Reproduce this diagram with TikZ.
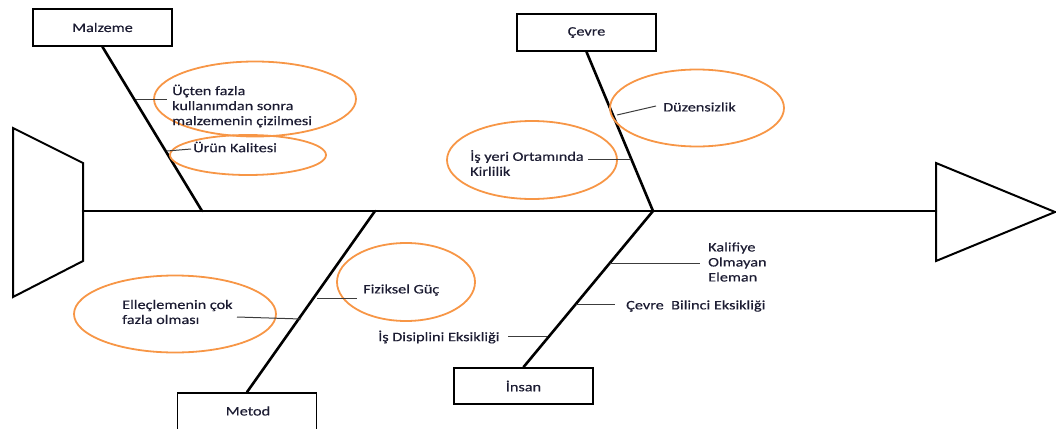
\documentclass[tikz,border=0pt]{standalone}
\usepackage{fontspec}
\setmainfont{Carlito}[FakeStretch=1.25,FakeBold=0.4]
\usetikzlibrary{shapes.geometric}
\definecolor{fborange}{RGB}{247,150,70}
\definecolor{txt}{RGB}{28,28,50}
\definecolor{tick}{RGB}{60,60,60}
\tikzset{
  bone/.style={line width=2.6pt, line cap=round},
  catbox/.style={draw, line width=1.8pt, rectangle, minimum width=139pt, minimum height=37pt, inner sep=0pt, text=txt},
  oval/.style={draw=fborange, line width=1.8pt, ellipse, inner sep=0pt},
  lbl/.style={anchor=west, inner sep=0pt, align=left, text=txt, font=\fontsize{13}{15}\selectfont},
  tickline/.style={draw=tick, line width=1pt},
  outline/.style={line width=2pt, line join=miter}
}
\begin{document}
\begin{tikzpicture}[x=1pt,y=-1pt, every node/.append style={font=\fontsize{13}{15}\selectfont}]
\clip (0,0) rectangle (1056,428);
% tail and head
\draw[outline] (13,128) -- (83,163) -- (83,261) -- (13,297) -- cycle;
\draw[outline] (936,163) -- (1055,212) -- (936,261) -- cycle;
\coordinate (tail) at (83,211);
\coordinate (head) at (936,211);
\draw[bone] (tail) -- (head);
% category boxes
\node[catbox] (malzeme) at (102.5,27.5) {Malzeme};
\node[catbox] (cevre) at (586.5,32.5) {Çevre};
\node[catbox, minimum height=40pt] (metod) at (247,413) {};
\node[text=txt] (metodtxt) at (248,411) {Metod};
\node[catbox, minimum height=36pt] (insan) at (523.5,386) {İnsan};
% junctions on spine
\coordinate (jM) at (202,211);
\coordinate (jC) at (653,211);
\coordinate (jMe) at (375,211);
\coordinate (jI) at (653,211);
\draw[bone] (malzeme.south) -- (jM);
\draw[bone] (cevre.south) -- (jC);
\draw[bone] (metod.north) -- (jMe);
\draw[bone] (insan.north) -- (jI);
% ellipses
\node[oval, minimum width=202pt, minimum height=75pt] (e1) at (255,99) {};
\node[oval, minimum width=156pt, minimum height=40pt] (e2) at (248,155) {};
\node[oval, minimum width=174pt, minimum height=77pt] (e3) at (697,108) {};
\node[oval, minimum width=170pt, minimum height=78pt] (e4) at (532,160) {};
\node[oval, minimum width=202pt, minimum height=77pt] (e5) at (175,314) {};
\node[oval, minimum width=138pt, minimum height=78pt] (e6) at (406,282) {};
% labels
\node[lbl] (t1) at (172,106) {Üçten fazla\\kullanımdan sonra\\malzemenin çizilmesi};
\node[lbl] (t2) at (193,147) {Ürün Kalitesi};
\node[lbl] (t3) at (663,107) {Düzensizlik};
\node[lbl] (t4) at (470,163) {İş yeri Ortamında\\Kirlilik};
\node[lbl] (t5) at (122,312) {Elleçlemenin çok\\fazla olması};
\node[lbl] (t6) at (363,290) {Fiziksel Güç};
\node[lbl] (t7) at (378,337) {İş Disiplini Eksikliği};
\node[lbl] (t8) at (708,262) {Kalifiye\\Olmayan\\Eleman};
\node[lbl] (t9) at (626,306) {Çevre\ \ Bilinci Eksikliği};
% ticks
\coordinate (a1) at (136,99);   \coordinate (b1) at (167,99);
\coordinate (a2) at (167,151);  \coordinate (b2) at (191,149);
\coordinate (a3) at (617,115);  \coordinate (b3) at (656,106);
\coordinate (a4) at (588,159);  \coordinate (b4) at (631,159);
\coordinate (a5) at (317,298);  \coordinate (b5) at (357,298);
\coordinate (a6) at (237,317);  \coordinate (b6) at (301,319);
\coordinate (a7) at (610,263);  \coordinate (b7) at (700,263);
\coordinate (a8) at (576,304);  \coordinate (b8) at (615,304);
\coordinate (a9) at (508,336);  \coordinate (b9) at (547,336);
\foreach \i in {1,...,9} { \draw[tickline] (a\i) -- (b\i); }
\end{tikzpicture}
\end{document}
